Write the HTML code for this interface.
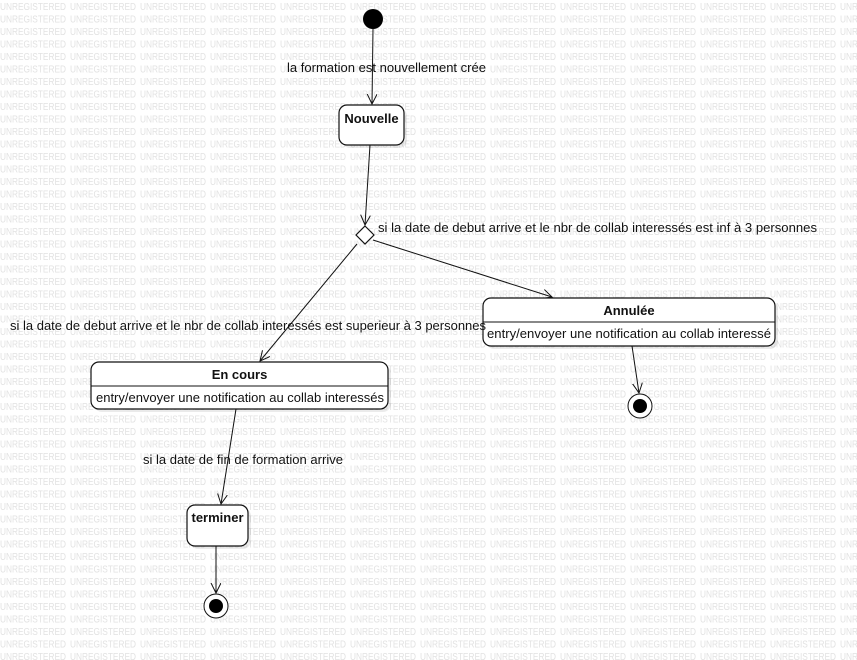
<!DOCTYPE html>
<html><head><meta charset="utf-8"><style>
html,body{margin:0;padding:0;background:#fff;}
svg{display:block;}
.wm{font-family:"Liberation Sans",sans-serif;font-size:10px;fill:#e2e2e2;}
.t{font-family:"Liberation Sans",sans-serif;font-size:13px;fill:#111;}
.b{font-weight:bold;}
</style></head><body>
<svg width="857" height="660" viewBox="0 0 857 660" xmlns="http://www.w3.org/2000/svg">
<defs>
<pattern id="wm" x="0" y="0" width="70" height="12.5" patternUnits="userSpaceOnUse">
<text class="wm" x="0" y="10" textLength="66" lengthAdjust="spacingAndGlyphs">UNREGISTERED</text>
</pattern>
<marker id="ar" markerWidth="12" markerHeight="12" refX="10" refY="5" orient="auto" markerUnits="userSpaceOnUse">
<path d="M0,0 L10,5 L0,10" fill="none" stroke="#111" stroke-width="1"/>
</marker>
</defs>
<rect width="857" height="660" fill="url(#wm)"/>
<g stroke="#111" stroke-width="1" fill="none">
<line x1="373" y1="29" x2="372" y2="104" marker-end="url(#ar)"/>
<line x1="370" y1="145" x2="365" y2="225" marker-end="url(#ar)"/>
<line x1="373" y1="240" x2="552" y2="297" marker-end="url(#ar)"/>
<line x1="357" y1="244" x2="260" y2="361" marker-end="url(#ar)"/>
<line x1="632" y1="346" x2="639" y2="393" marker-end="url(#ar)"/>
<line x1="236" y1="409" x2="221" y2="504" marker-end="url(#ar)"/>
<line x1="216" y1="546" x2="216" y2="593" marker-end="url(#ar)"/>
</g>
<circle cx="373" cy="19" r="10" fill="#000"/>
<g fill="#000" opacity="0.08">
<rect x="342" y="108" width="65" height="40" rx="8"/>
<rect x="486" y="301" width="292" height="48" rx="8"/>
<rect x="94" y="365" width="297" height="47" rx="8"/>
<rect x="190" y="508" width="61" height="41" rx="8"/>
</g>
<g fill="#fff" stroke="#111" stroke-width="1.2">
<rect x="339" y="105" width="65" height="40" rx="8"/>
<rect x="483" y="298" width="292" height="48" rx="8"/>
<rect x="91" y="362" width="297" height="47" rx="8"/>
<rect x="187" y="505" width="61" height="41" rx="8"/>
<path d="M365,226 L374,235 L365,244 L356,235 Z"/>
</g>
<g stroke="#111" stroke-width="1">
<line x1="483" y1="322" x2="775" y2="322"/>
<line x1="91" y1="386" x2="388" y2="386"/>
</g>
<circle cx="640" cy="406" r="12" fill="#fff" stroke="#111"/>
<circle cx="640" cy="406" r="7" fill="#000"/>
<circle cx="216" cy="606" r="12" fill="#fff" stroke="#111"/>
<circle cx="216" cy="606" r="7" fill="#000"/>
<text class="t b" x="371.5" y="123" text-anchor="middle">Nouvelle</text>
<text class="t b" x="629" y="315" text-anchor="middle">Annulée</text>
<text class="t" x="487" y="338" textLength="284" lengthAdjust="spacingAndGlyphs">entry/envoyer une notification au collab interessé</text>
<text class="t b" x="239.5" y="379" text-anchor="middle">En cours</text>
<text class="t" x="96" y="402" textLength="288" lengthAdjust="spacingAndGlyphs">entry/envoyer une notification au collab interessés</text>
<text class="t b" x="217.5" y="522" text-anchor="middle">terminer</text>
<text class="t" x="287" y="72" textLength="199" lengthAdjust="spacingAndGlyphs">la formation est nouvellement crée</text>
<text class="t" x="378" y="232" textLength="439" lengthAdjust="spacingAndGlyphs">si la date de debut arrive et le nbr de  collab interessés est inf à 3 personnes</text>
<text class="t" x="10" y="330" textLength="476" lengthAdjust="spacingAndGlyphs">si la date de debut arrive et le nbr de collab interessés est superieur à 3 personnes</text>
<text class="t" x="143" y="464" textLength="200" lengthAdjust="spacingAndGlyphs">si la date de fin de formation arrive</text>
</svg>
</body></html>
